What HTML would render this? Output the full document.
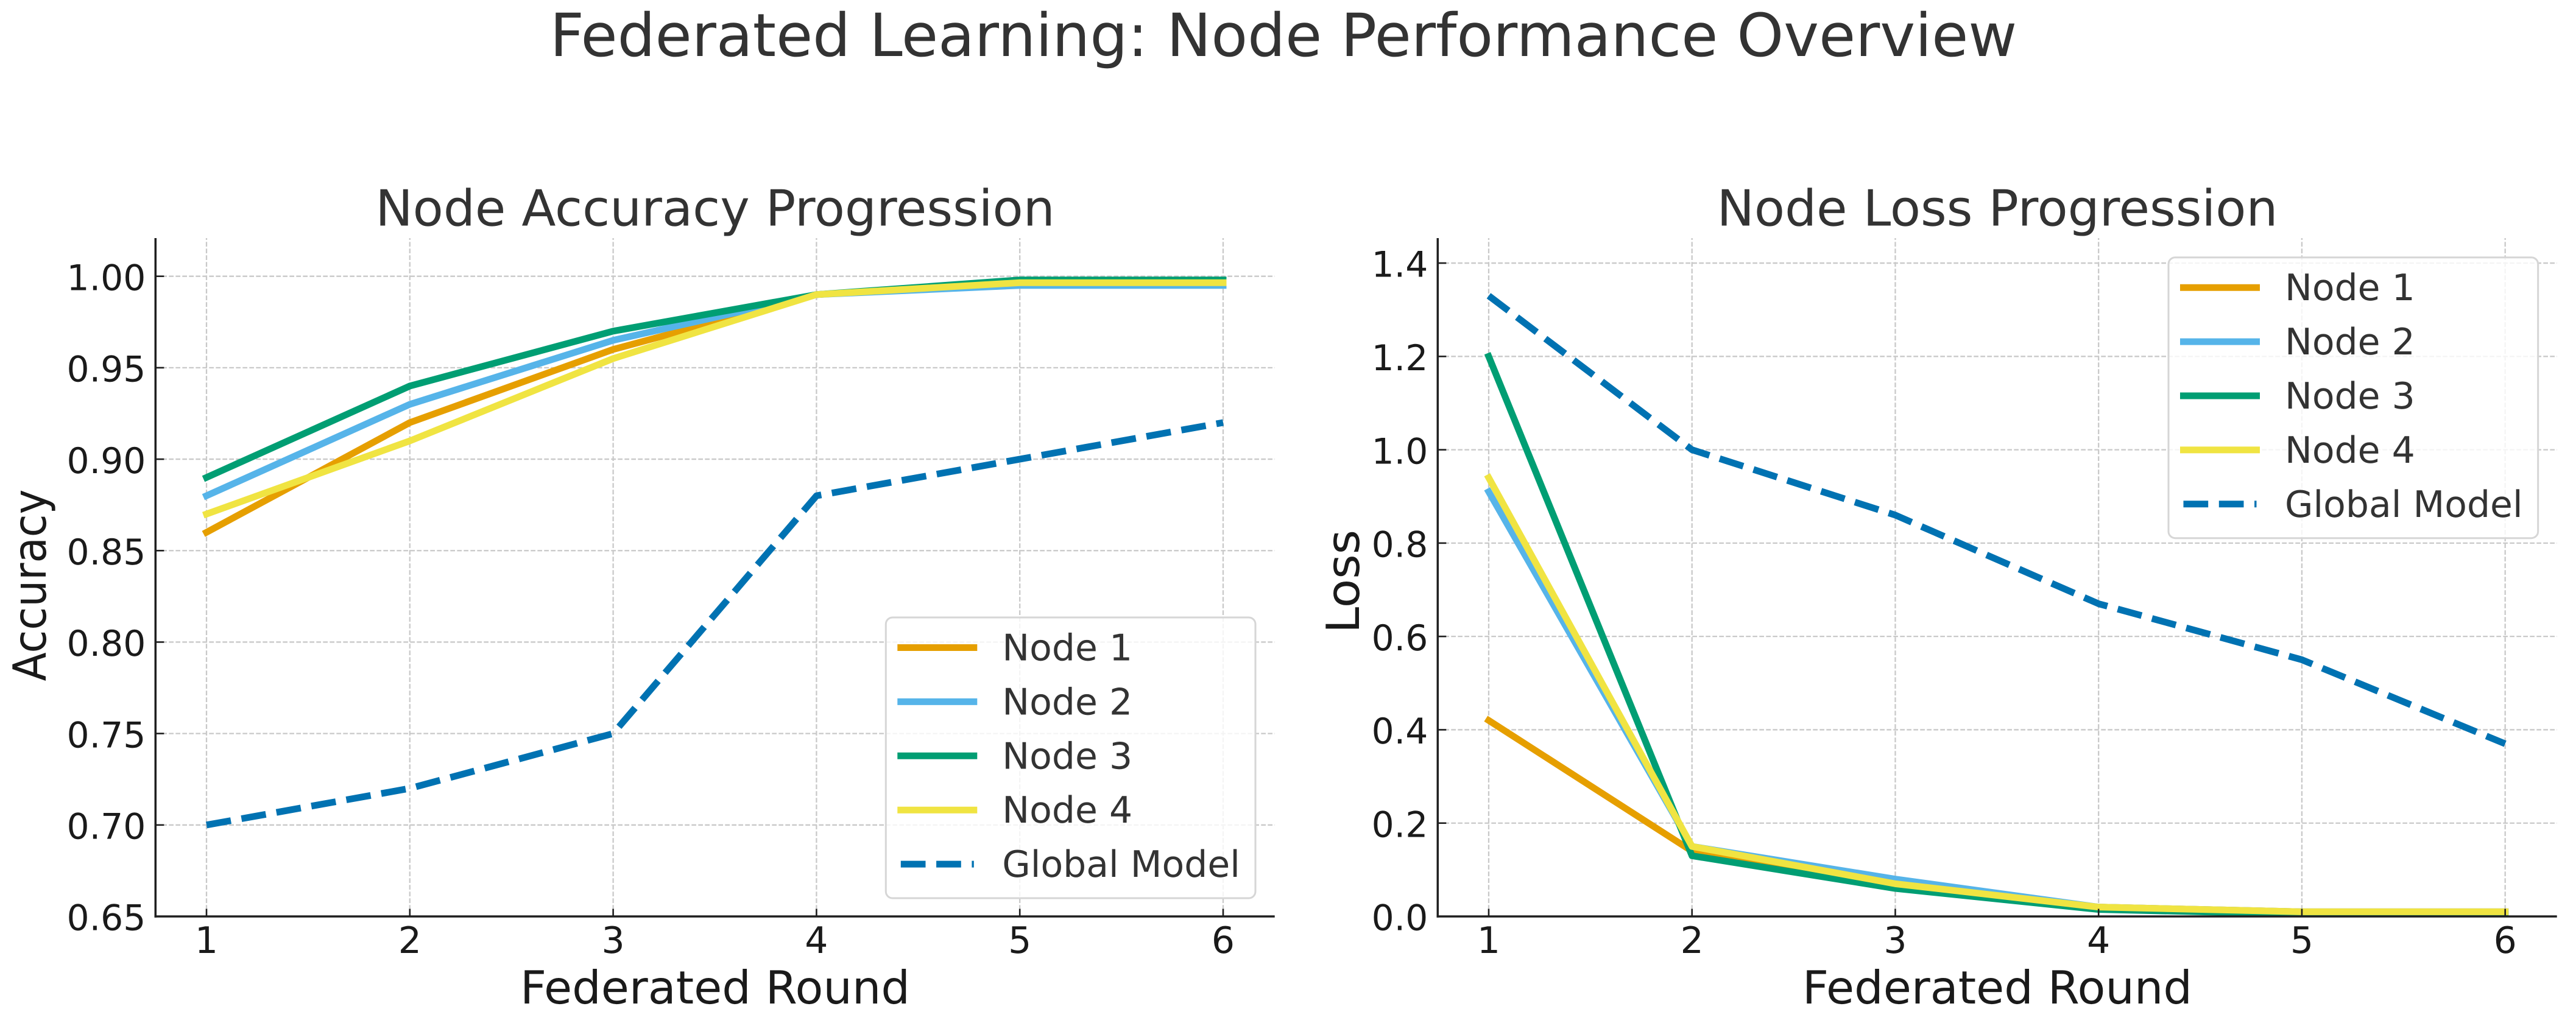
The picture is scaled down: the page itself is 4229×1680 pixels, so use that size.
<!DOCTYPE html>
<html lang="en">
<head>
<meta charset="utf-8">
<title>Federated Learning: Node Performance Overview</title>
<style>
  html, body { margin: 0; padding: 0; background: #ffffff; }
  body { width: 4229px; height: 1680px; overflow: hidden; }
  svg { display: block; }
  text { font-family: "DejaVu Sans", "Liberation Sans", sans-serif; text-rendering: geometricPrecision; }
</style>
</head>
<body>
<svg id="figure" xmlns="http://www.w3.org/2000/svg" width="4229" height="1680" viewBox="0 0 4229 1680">
  <rect x="0" y="0" width="4229" height="1680" fill="#ffffff"/>
  <text x="2107" y="92" font-size="97.7" fill="#333333" text-anchor="middle">Federated Learning: Node Performance Overview</text>
  <g id="accuracy-panel"></g>
  <g id="loss-panel"></g>
</svg>
<script>
// ---- Shared data ----
const rounds = [1, 2, 3, 4, 5, 6];
const seriesNames = ["Node 1", "Node 2", "Node 3", "Node 4", "Global Model"];

// ---- Accuracy data ----
const accuracyNode1 = [0.86, 0.92, 0.96, 0.99, 0.9965, 0.9965];
const accuracyNode2 = [0.88, 0.93, 0.965, 0.99, 0.995, 0.995];
const accuracyNode3 = [0.89, 0.94, 0.97, 0.99, 0.998, 0.998];
const accuracyNode4 = [0.87, 0.91, 0.955, 0.99, 0.9965, 0.9965];
const accuracyGlobal = [0.70, 0.72, 0.75, 0.88, 0.90, 0.92];
const accuracyTicks = [0.65, 0.70, 0.75, 0.80, 0.85, 0.90, 0.95, 1.00];
const accuracyTickLabels = ["0.65", "0.70", "0.75", "0.80", "0.85", "0.90", "0.95", "1.00"];

// ---- Loss data ----
const lossNode1 = [0.42, 0.14, 0.07, 0.02, 0.01, 0.01];
const lossNode2 = [0.91, 0.15, 0.08, 0.02, 0.01, 0.01];
const lossNode3 = [1.20, 0.13, 0.06, 0.015, 0.005, 0.005];
const lossNode4 = [0.94, 0.15, 0.07, 0.02, 0.01, 0.01];
const lossGlobal = [1.33, 1.00, 0.86, 0.67, 0.55, 0.37];
const lossTicks = [0.0, 0.2, 0.4, 0.6, 0.8, 1.0, 1.2, 1.4];
const lossTickLabels = ["0.0", "0.2", "0.4", "0.6", "0.8", "1.0", "1.2", "1.4"];

// ---- Styling ----
const SVGNS = "http://www.w3.org/2000/svg";
const colors = ["#E69F00", "#56B4E9", "#009E73", "#F0E442", "#0072B2"];
const LINE_WIDTH = 11;
const DASH = "40.7 17.6";
const GRID_COLOR = "#c9c9c9";
const AXIS_COLOR = "#1f1f1f";
const LABEL_COLOR = "#1a1a1a";
const TEXT_COLOR = "#333333";

function make(parent, tag, attrs, content) {
  const el = document.createElementNS(SVGNS, tag);
  for (const key in attrs) el.setAttribute(key, attrs[key]);
  if (content !== undefined) el.textContent = content;
  parent.appendChild(el);
  return el;
}

function drawPanel(cfg) {
  const g = document.getElementById(cfg.id);
  const xScale = v => cfg.x1 + (v - rounds[0]) * cfg.xStep;
  const yScale = v => cfg.bottom - (v - cfg.yMin) * cfg.yUnit;

  // subplot title
  const title = make(g, "text", { x: (cfg.left + cfg.right) / 2, y: 370.7, "font-size": 82, fill: TEXT_COLOR, "text-anchor": "middle" }, cfg.title);
  
  

  // grid lines
  const gridStyle = { stroke: GRID_COLOR, "stroke-width": 2.3, "stroke-dasharray": "7.7 3.3", fill: "none" };
  rounds.forEach(r => {
    const line = make(g, "line", Object.assign({ x1: xScale(r), x2: xScale(r), y1: cfg.bottom, y2: cfg.top }, gridStyle));
    
    
  });
  cfg.ticks.forEach(t => {
    const line = make(g, "line", Object.assign({ x1: cfg.left, x2: cfg.right, y1: yScale(t), y2: yScale(t) }, gridStyle));
    
    
  });

  // data series, clipped to the plot area
  const clip = make(g, "clipPath", { id: cfg.key + "-clip" });
  make(clip, "rect", { x: cfg.left, y: cfg.top, width: cfg.right - cfg.left, height: cfg.bottom - cfg.top });
  const plot = make(g, "g", { "clip-path": "url(#" + cfg.key + "-clip)" });
  
  
  cfg.series.forEach((values, i) => {
    const points = values.map((v, j) => xScale(rounds[j]) + "," + yScale(v)).join(" ");
    const isDashed = i === cfg.series.length - 1;
    const line = make(plot, "polyline", {
      points: points,
      fill: "none",
      stroke: colors[i],
      "stroke-width": LINE_WIDTH,
      "stroke-linejoin": "round",
      "stroke-linecap": isDashed ? "butt" : "square"
    });
    if (isDashed) line.setAttribute("stroke-dasharray", DASH);
    
    
  });

  // x ticks and labels
  rounds.forEach(r => {
    const tick = make(g, "line", { x1: xScale(r), x2: xScale(r), y1: cfg.bottom, y2: cfg.bottom - 12.5, stroke: AXIS_COLOR, "stroke-width": 2.6 });
    
    
    const label = make(g, "text", { x: xScale(r), y: 1565, "font-size": 60, fill: LABEL_COLOR, "text-anchor": "middle" }, String(r));
    
    
  });

  // y ticks and labels
  cfg.ticks.forEach((t, i) => {
    const tick = make(g, "line", { x1: cfg.left, x2: cfg.left + 14, y1: yScale(t), y2: yScale(t), stroke: AXIS_COLOR, "stroke-width": 2.6 });
    
    
    const label = make(g, "text", { x: cfg.left - 16, y: yScale(t) + 22.7, "font-size": 58.3, fill: LABEL_COLOR, "text-anchor": "end" }, cfg.tickLabels[i]);
    
    
  });

  // spines
  const leftSpine = make(g, "line", { x1: cfg.left, x2: cfg.left, y1: cfg.top, y2: cfg.bottom + 1.75, stroke: AXIS_COLOR, "stroke-width": 3.5 });
  
  
  const bottomSpine = make(g, "line", { x1: cfg.left - 1.75, x2: cfg.right, y1: cfg.bottom, y2: cfg.bottom, stroke: AXIS_COLOR, "stroke-width": 3.5 });
  
  

  // axis titles
  const xTitle = make(g, "text", { x: (cfg.left + cfg.right) / 2, y: 1648, "font-size": 75, fill: LABEL_COLOR, "text-anchor": "middle" }, "Federated Round");
  
  
  const yTitle = make(g, "text", { x: cfg.yTitleX, y: cfg.yTitleY, "font-size": 75, fill: LABEL_COLOR, "text-anchor": "middle", textLength: cfg.yTitleLength, lengthAdjust: "spacingAndGlyphs", transform: "rotate(-90 " + cfg.yTitleX + " " + cfg.yTitleY + ")" }, cfg.yLabel);
  
  

  // legend
  const legend = make(g, "g", {});
  
  
  const box = make(legend, "rect", { x: cfg.legendX, y: cfg.legendY, width: 606.7, height: 461, rx: 11, ry: 11, fill: "#ffffff", "fill-opacity": 0.8, stroke: "#d6d6d6", "stroke-width": 3 });
  
  
  seriesNames.forEach((name, i) => {
    const rowY = cfg.legendY + 49.5 + i * 88.9;
    const isDashed = i === seriesNames.length - 1;
    const sample = make(legend, "line", {
      x1: cfg.legendX + 24.5,
      x2: cfg.legendX + 144.5,
      y1: rowY,
      y2: rowY,
      stroke: colors[i],
      "stroke-width": LINE_WIDTH,
      "stroke-linecap": isDashed ? "butt" : "square"
    });
    if (isDashed) sample.setAttribute("stroke-dasharray", DASH);
    
    
    const label = make(legend, "text", { x: cfg.legendX + 191, y: rowY + 21, "font-size": 60, fill: TEXT_COLOR }, name);
    
    
  });
}

drawPanel({
  id: "accuracy-panel", key: "accuracy", title: "Node Accuracy Progression", yLabel: "Accuracy",
  left: 255.3, right: 2092.7, top: 391, bottom: 1505, x1: 339, xStep: 333.8,
  yMin: 0.65, yUnit: 3003.7, yTitleX: 75, yTitleY: 961, yTitleLength: 315,
  ticks: accuracyTicks, tickLabels: accuracyTickLabels,
  series: [accuracyNode1, accuracyNode2, accuracyNode3, accuracyNode4, accuracyGlobal],
  legendX: 1454.3, legendY: 1014
});

drawPanel({
  id: "loss-panel", key: "loss", title: "Node Loss Progression", yLabel: "Loss",
  left: 2360.3, right: 4197.7, top: 391, bottom: 1505, x1: 2444, xStep: 333.74,
  yMin: 0, yUnit: 766.4, yTitleX: 2231, yTitleY: 955, yTitleLength: 170,
  ticks: lossTicks, tickLabels: lossTickLabels,
  series: [lossNode1, lossNode2, lossNode3, lossNode4, lossGlobal],
  legendX: 3560, legendY: 422.7
});
</script>
</body>
</html>
